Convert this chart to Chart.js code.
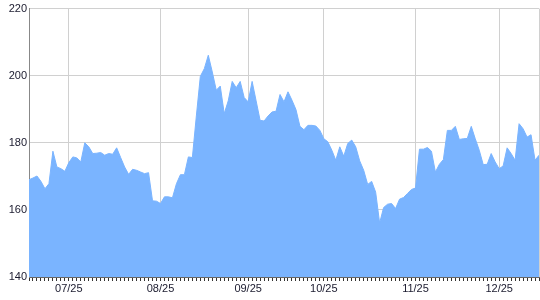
<!DOCTYPE html>
<html>
<head>
<meta charset="utf-8">
<script src="https://cdn.jsdelivr.net/npm/chart.js@4.4.0/dist/chart.umd.min.js"></script>
<style>
  html, body { margin: 0; padding: 0; background: #fff; }
</style>
</head>
<body>
<canvas id="chart" width="540" height="300"></canvas>
<script>
// daily closing values
const prices = [
  169.0, 169.5, 170.1, 168.5, 166.3, 167.8, 177.5, 172.8, 172.3, 171.5,
  174.1, 175.8, 175.5, 174.3, 180.0, 178.8, 176.8, 176.9, 177.1, 176.3,
  176.8, 176.6, 178.5, 175.6, 172.8, 170.6, 172.1, 171.8, 171.3, 170.8,
  171.1, 162.7, 162.6, 161.9, 163.9, 163.9, 163.6, 167.8, 170.5, 170.5,
  175.8, 175.6, 188.0, 199.8, 202.1, 206.1, 201.1, 195.7, 196.9, 188.7,
  192.5, 198.3, 196.4, 198.3, 193.5, 192.2, 198.3, 192.5, 186.7, 186.5,
  188.0, 189.2, 189.4, 194.4, 192.2, 195.2, 192.7, 189.9, 184.9, 183.9,
  185.2, 185.2, 185.0, 183.7, 181.2, 180.3, 177.8, 174.8, 178.8, 176.0,
  179.8, 180.8, 178.8, 174.6, 171.8, 167.6, 168.5, 165.3, 156.1, 160.7,
  161.7, 161.9, 160.4, 163.2, 163.7, 164.9, 166.1, 166.5, 178.1, 178.1,
  178.6, 177.5, 171.3, 173.6, 175.0, 183.7, 183.7, 184.9, 181.0, 181.2,
  181.3, 184.9, 181.2, 177.8, 173.5, 173.6, 176.8, 174.3, 172.3, 173.1,
  178.5, 176.8, 174.8, 185.7, 184.2, 181.7, 182.4, 174.8, 176.3
];

// which day index each month label sits on
const monthTickIndex = [10, 33, 55, 74, 97, 118];
const monthTickLabels = ["07/25", "08/25", "09/25", "10/25", "11/25", "12/25"];

const yMin = 140;
const yMax = 220;
const yStep = 20;

const lastIndex = prices.length - 1;
const gridGray = "#d0d0d0";

new Chart(document.getElementById("chart"), {
  type: "line",
  data: {
    datasets: [
      {
        data: prices.map((v, i) => ({ x: i, y: v })),
        fill: "start",
        backgroundColor: "#7ab4ff",
        borderColor: "#7ab4ff",
        borderWidth: 1,
        pointRadius: 0,
        tension: 0,
      },
    ],
  },
  options: {
    responsive: false,
    animation: false,
    layout: { padding: { top: 8, right: 1, left: 0, bottom: 0 } },
    plugins: { legend: { display: false }, tooltip: { enabled: false } },
    scales: {
      x: {
        type: "linear",
        min: 0,
        max: lastIndex,
        afterBuildTicks: (scale) => {
          scale.ticks = prices.map((_, i) => ({ value: i }));
        },
        afterFit: (scale) => {
          scale.height = 23;
        },
        ticks: {
          autoSkip: false,
          maxRotation: 0,
          padding: 1,
          color: "#1a1a2e",
          font: { family: "'Liberation Sans', Arial, sans-serif", size: 11 },
          callback: (value) => {
            const k = monthTickIndex.indexOf(value);
            return k >= 0 ? monthTickLabels[k] : "";
          },
        },
        grid: {
          color: (ctx) => {
            const v = ctx.tick ? ctx.tick.value : -1;
            return monthTickIndex.includes(v) || v === lastIndex ? gridGray : "rgba(0,0,0,0)";
          },
          tickColor: "#333",
          tickLength: 4,
        },
        border: { color: "#666" },
      },
      y: {
        min: yMin,
        max: yMax,
        afterFit: (scale) => {
          scale.width = 29;
        },
        ticks: {
          stepSize: yStep,
          padding: 2,
          color: "#1a1a2e",
          font: { family: "'Liberation Sans', Arial, sans-serif", size: 11 },
        },
        grid: { color: gridGray, drawTicks: false },
        border: { color: "#888" },
      },
    },
  },
});
</script>
</body>
</html>
